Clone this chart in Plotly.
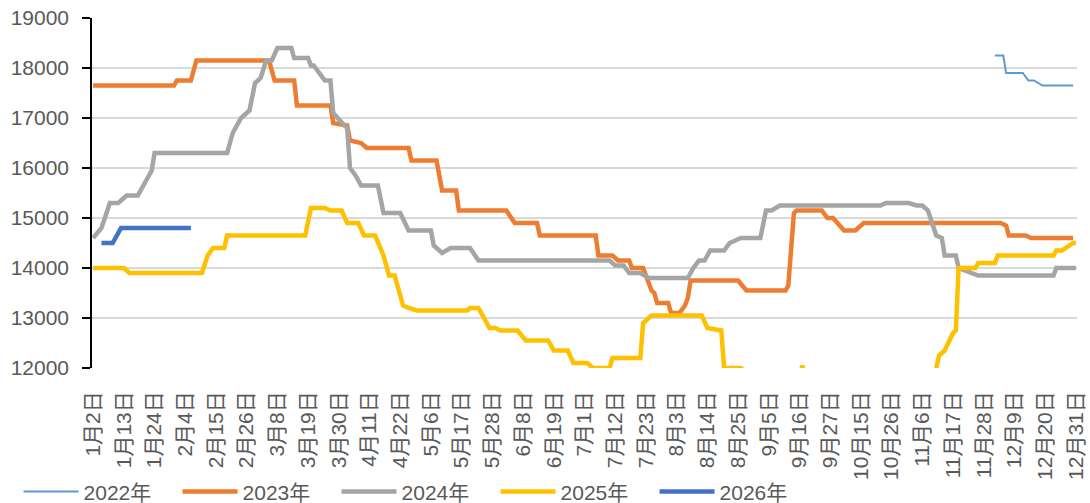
import datetime as dt
import plotly.graph_objects as go

# ---------------- categories (daily axis, some dates absent in source table) ----------------
AXIS_START = dt.date(2024, 1, 2)
AXIS_END = dt.date(2024, 12, 31)
SKIPPED_DATES = ["4月4日", "5月1日", "5月2日", "5月3日", "6月30日",
                 "10月1日", "10月2日", "10月3日", "10月4日", "10月5日", "10月6日", "10月7日"]


def md_label(d):
    return f"{d.month}月{d.day}日"


categories = []
_d = AXIS_START
while _d <= AXIS_END:
    _s = md_label(_d)
    if _s not in SKIPPED_DATES:
        categories.append(_s)
    _d += dt.timedelta(days=1)

tick_labels = categories[::11]

# ---------------- series (dates where the price changes, and the price) ----------------
x_2022 = ["12月2日", "12月5日", "12月6日", "12月12日", "12月14日", "12月16日", "12月19日", "12月30日"]
y_2022 = [18250, 18250, 17900, 17900, 17750, 17750, 17650, 17650]

x_2023 = ["1月2日", "1月31日", "2月1日", "2月6日", "2月8日", "3月5日", "3月7日", "3月14日",
          "3月15日", "3月27日", "3月28日", "4月2日", "4月3日", "4月8日", "4月10日", "4月25日",
          "4月26日", "5月8日", "5月10日", "5月15日", "5月16日", "6月2日", "6月5日", "6月13日",
          "6月14日", "7月5日", "7月6日", "7月11日", "7月13日", "7月17日", "7月18日", "7月22日",
          "7月25日", "7月26日", "7月27日", "7月31日", "8月1日", "8月4日", "8月6日", "8月7日",
          "8月8日", "8月25日", "8月28日", "9月11日", "9月12日", "9月14日", "9月15日", "9月24日",
          "9月26日", "9月28日", "10月9日", "10月13日", "10月16日", "12月4日", "12月6日", "12月7日",
          "12月13日", "12月15日", "12月30日"]
y_2023 = [17650, 17650, 17750, 17750, 18150, 18150, 17750, 17750,
          17250, 17250, 16900, 16850, 16550, 16500, 16400, 16400,
          16150, 16150, 15550, 15550, 15150, 15150, 14900, 14900,
          14650, 14650, 14250, 14250, 14150, 14150, 14000, 14000,
          13550, 13500, 13300, 13300, 13100, 13100, 13250, 13400,
          13750, 13750, 13550, 13550, 13650, 15100, 15150, 15150,
          15000, 15000, 14750, 14750, 14900, 14900, 14850, 14650,
          14650, 14600, 14600]

x_2024 = ["1月2日", "1月4日", "1月5日", "1月8日", "1月11日", "1月14日", "1月18日", "1月22日",
          "1月23日", "1月24日", "2月19日", "2月21日", "2月22日", "2月24日", "2月27日", "2月28日",
          "2月29日", "3月2日", "3月4日", "3月6日", "3月8日", "3月13日", "3月14日", "3月19日",
          "3月20日", "3月21日", "3月25日", "3月27日", "3月28日", "4月1日", "4月2日", "4月3日",
          "4月6日", "4月8日", "4月14日", "4月16日", "4月22日", "4月25日", "5月6日", "5月7日",
          "5月10日", "5月13日", "5月20日", "5月23日", "7月10日", "7月12日", "7月15日", "7月17日",
          "7月21日", "7月24日", "8月7日", "8月9日", "8月11日", "8月13日", "8月15日", "8月20日",
          "8月22日", "8月26日", "9月2日", "9月4日", "9月6日", "9月9日", "10月22日", "10月24日",
          "11月1日", "11月4日", "11月6日", "11月8日", "11月11日", "11月13日", "11月14日", "11月18日",
          "11月19日", "11月26日", "12月23日", "12月24日", "12月31日"]
y_2024 = [14600, 14750, 14800, 15300, 15300, 15450, 15450, 15850,
          15950, 16300, 16300, 16700, 16800, 17000, 17150, 17400,
          17700, 17800, 18150, 18150, 18400, 18400, 18200, 18200,
          18050, 18050, 17750, 17750, 17100, 16850, 16800, 16000,
          15850, 15650, 15650, 15100, 15100, 14750, 14750, 14450,
          14300, 14400, 14400, 14150, 14150, 14050, 14050, 13900,
          13900, 13800, 13800, 14000, 14150, 14150, 14350, 14350,
          14500, 14600, 14600, 15150, 15150, 15250, 15250, 15300,
          15300, 15250, 15250, 15150, 14650, 14600, 14250, 14250,
          14000, 13850, 13850, 14000, 14000]

x_2025 = ["1月2日", "1月13日", "1月15日", "2月10日", "2月12日", "2月14日", "2月18日", "2月19日",
          "3月18日", "3月20日", "3月25日", "3月27日", "3月31日", "4月2日", "4月7日", "4月9日",
          "4月13日", "4月15日", "4月16日", "4月18日", "4月20日", "4月23日", "4月25日", "4月28日",
          "5月19日", "5月20日", "5月23日", "5月27日", "5月29日", "5月31日", "6月6日", "6月9日",
          "6月17日", "6月19日", "6月24日", "6月26日", "7月2日", "7月4日", "7月10日", "7月11日",
          "7月21日", "7月22日", "7月23日", "7月25日", "8月12日", "8月14日", "8月19日", "8月20日",
          "8月26日", "8月27日", "9月1日", "9月3日", "9月16日", "9月17日", "9月18日", "11月10日",
          "11月11日", "11月12日", "11月14日", "11月17日", "11月18日", "11月19日", "11月25日", "11月26日",
          "12月2日", "12月3日", "12月23日", "12月24日", "12月26日", "12月30日", "12月31日"]
y_2025 = [14000, 14000, 13900, 13900, 14250, 14400, 14400, 14650,
          14650, 15200, 15200, 15150, 15150, 14900, 14900, 14650,
          14650, 14350, 14250, 13850, 13850, 13250, 13200, 13150,
          13150, 13200, 13200, 12800, 12800, 12750, 12750, 12550,
          12550, 12350, 12350, 12100, 12100, 12000, 12000, 12200,
          12200, 12900, 12950, 13050, 13050, 12800, 12750, 12000,
          12000, 11950, 11950, 11800, 11800, 12050, 11800, 11800,
          12000, 12250, 12350, 12700, 12750, 14000, 14000, 14100,
          14100, 14250, 14250, 14350, 14350, 14500, 14500]

x_2026 = ["1月5日", "1月9日", "1月12日", "2月6日"]
y_2026 = [14500, 14500, 14800, 14800]

SERIES = [
    ("2022年", x_2022, y_2022, "#5B9BD5", 2),
    ("2023年", x_2023, y_2023, "#ED7D31", 4.5),
    ("2024年", x_2024, y_2024, "#A5A5A5", 4.5),
    ("2025年", x_2025, y_2025, "#FFC000", 4.5),
    ("2026年", x_2026, y_2026, "#4472C4", 4.5),
]

FONT = "Liberation Sans, 'Noto Sans CJK SC', sans-serif"
TXT = "#595959"
FS = 21

fig = go.Figure()
for name, xs, ys, color, w in SERIES:
    fig.add_trace(go.Scatter(x=xs, y=ys, name=name, mode="lines",
                             line=dict(color=color, width=w)))

fig.update_layout(
    width=1090, height=503,
    margin=dict(l=92, r=13, t=18, b=135, pad=0, autoexpand=False),
    paper_bgcolor="white", plot_bgcolor="white",
    font=dict(family=FONT, size=FS, color=TXT),
    showlegend=True,
    legend=dict(orientation="h", xref="container", yref="container",
                x=0.017, xanchor="left", y=0.022, yanchor="middle",
                font=dict(size=FS, color=TXT), itemwidth=55,
                entrywidth=89, traceorder="normal"),
)
fig.update_xaxes(type="category", categoryorder="array", categoryarray=categories,
                 range=[-0.4, len(categories) - 1 + 0.4],
                 tickmode="array", tickvals=tick_labels, ticktext=tick_labels,
                 tickangle=-90, tickfont=dict(size=FS, color=TXT),
                 showgrid=False, showline=False, zeroline=False, ticks="",
                 ticklabelstandoff=18, automargin=False)
fig.update_yaxes(range=[12000, 19000], dtick=1000, tick0=12000,
                 showgrid=True, gridcolor="#D9D9D9", gridwidth=1.5,
                 showline=True, linecolor="black", linewidth=1.5,
                 ticks="outside", ticklen=8, tickcolor="black", tickwidth=1.5,
                 tickfont=dict(size=FS, color=TXT), zeroline=False,
                 tickformat="d", ticklabelstandoff=9, automargin=False)

fig.write_html("out.html", config={"displayModeBar": False},
               post_script="document.body.style.margin='0';")
